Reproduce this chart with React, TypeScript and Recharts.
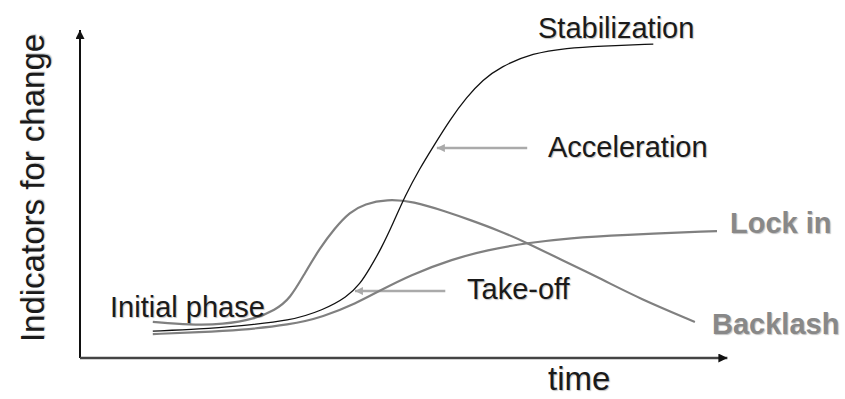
import React from 'react';
import { LineChart, Line, XAxis, YAxis, ReferenceLine } from 'recharts';

// curve samples: x = time (0-100), y = indicator level (0-100)
const stabilizationX = [11.2, 18.5, 24.6, 32.3, 37.4, 41.1, 43.1, 44.6, 46.3, 48.2, 50.0, 52.3, 54.3, 56.9, 59.5, 62.0, 64.6, 69.7, 74.9, 80.0, 88.2];
const stabilizationY = [8.2, 8.8, 9.8, 11.3, 14.6, 18.6, 22.6, 27.4, 33.2, 41.2, 49.4, 57.9, 64.3, 72.6, 79.6, 84.8, 88.7, 93.0, 94.5, 95.1, 95.7];

const lockInX = [11.2, 18.5, 24.6, 32.3, 37.4, 42.6, 45.7, 50.8, 57.4, 62.6, 68.8, 75.4, 83.1, 98.0];
const lockInY = [7.3, 7.9, 8.5, 10.1, 12.5, 16.8, 20.1, 25.3, 30.2, 32.9, 35.1, 36.6, 37.5, 38.7];

const backlashX = [11.2, 16.9, 22.0, 26.9, 30.0, 32.3, 34.6, 36.9, 39.2, 41.5, 43.8, 47.2, 51.2, 56.5, 60.0, 64.5, 68.8, 74.0, 80.5, 86.0, 94.6];
const backlashY = [11.0, 10.1, 10.2, 11.9, 14.6, 18.0, 25.9, 33.5, 39.6, 44.5, 47.0, 48.4, 47.8, 44.5, 42.1, 38.8, 35.1, 30.0, 23.8, 18.2, 11.0];

// pointer arrows: [fromX, toX, y]
const accelerationArrow = [68.8, 54.9, 64.0];
const takeOffArrow = [56.2, 42.3, 20.4];

const toPoints = (xs: number[], ys: number[]) => xs.map((x, i) => ({ x, y: ys[i] }));

const stabilization = toPoints(stabilizationX, stabilizationY);
const lockIn = toPoints(lockInX, lockInY);
const backlash = toPoints(backlashX, backlashY);

const FONT = '"Liberation Sans", Arial, sans-serif';
const shadow = '1px 1px 1px rgba(0,0,0,0.25)';

const labels = [
  { text: 'Stabilization', x: 538, y: 38, bold: false },
  { text: 'Acceleration', x: 548, y: 157, bold: false },
  { text: 'Take-off', x: 467, y: 299, bold: false },
  { text: 'Initial phase', x: 110, y: 317, bold: false },
  { text: 'Lock in', x: 730, y: 233, bold: true },
  { text: 'Backlash', x: 712, y: 334, bold: true },
];

export default function App() {
  return (
    <div style={{ position: 'fixed', left: 0, top: 0, width: 845, height: 399, background: '#fff' }}>
      <svg width={0} height={0} style={{ position: 'absolute' }}>
        <defs>
          <marker id="axisHead" viewBox="0 0 10 10" refX={10} refY={5} markerWidth={9} markerHeight={9} markerUnits="userSpaceOnUse" orient="auto">
            <path d="M0,0 L10,5 L0,10 z" fill="#111" />
          </marker>
          <marker id="pointerHead" viewBox="0 0 10 10" refX={10} refY={5} markerWidth={9} markerHeight={8} markerUnits="userSpaceOnUse" orient="auto">
            <path d="M0,0 L10,5 L0,10 z" fill="#aaa" />
          </marker>
        </defs>
      </svg>
      <LineChart width={845} height={399} data={stabilization} margin={{ top: 30, right: 115, bottom: 41, left: 80 }}>
        <XAxis type="number" dataKey="x" domain={[0, 100]} hide allowDataOverflow />
        <YAxis type="number" dataKey="y" domain={[0, 100]} hide allowDataOverflow />
        <ReferenceLine segment={[{ x: 0, y: 0 }, { x: 0, y: 100 }]} stroke="#111" strokeWidth={2} markerEnd="url(#axisHead)" ifOverflow="visible" />
        <ReferenceLine segment={[{ x: 0, y: 0 }, { x: 99.6, y: 0 }]} stroke="#444" strokeWidth={2.5} markerEnd="url(#axisHead)" ifOverflow="visible" />
        <ReferenceLine segment={[{ x: accelerationArrow[0], y: accelerationArrow[2] }, { x: accelerationArrow[1], y: accelerationArrow[2] }]} stroke="#aaa" strokeWidth={2.5} markerEnd="url(#pointerHead)" ifOverflow="visible" />
        <ReferenceLine segment={[{ x: takeOffArrow[0], y: takeOffArrow[2] }, { x: takeOffArrow[1], y: takeOffArrow[2] }]} stroke="#aaa" strokeWidth={2.5} markerEnd="url(#pointerHead)" ifOverflow="visible" />
        <Line data={backlash} dataKey="y" type="basis" stroke="#808080" strokeWidth={2.2} dot={false} isAnimationActive={false} />
        <Line data={lockIn} dataKey="y" type="basis" stroke="#808080" strokeWidth={2.2} dot={false} isAnimationActive={false} />
        <Line data={stabilization} dataKey="y" type="basis" stroke="#111" strokeWidth={1.3} dot={false} isAnimationActive={false} />
      </LineChart>
      <svg width={845} height={399} style={{ position: 'absolute', left: 0, top: 0, pointerEvents: 'none' }}>
        {labels.map((l) => (
          <text
            key={l.text}
            x={l.x}
            y={l.y}
            fontFamily={FONT}
            fontSize={29}
            fontWeight={l.bold ? 'bold' : 'normal'}
            fill={l.bold ? '#888' : '#1a1a1a'}
            style={{ textShadow: shadow }}
          >
            {l.text}
          </text>
        ))}
        <text x={548} y={390} fontFamily={FONT} fontSize={33} fill="#1a1a1a" style={{ textShadow: shadow }}>
          time
        </text>
        <text
          x={0}
          y={0}
          transform="translate(44,188) rotate(-90)"
          textAnchor="middle"
          fontFamily={FONT}
          fontSize={33}
          fill="#1a1a1a"
          style={{ textShadow: shadow }}
        >
          Indicators for change
        </text>
      </svg>
    </div>
  );
}
